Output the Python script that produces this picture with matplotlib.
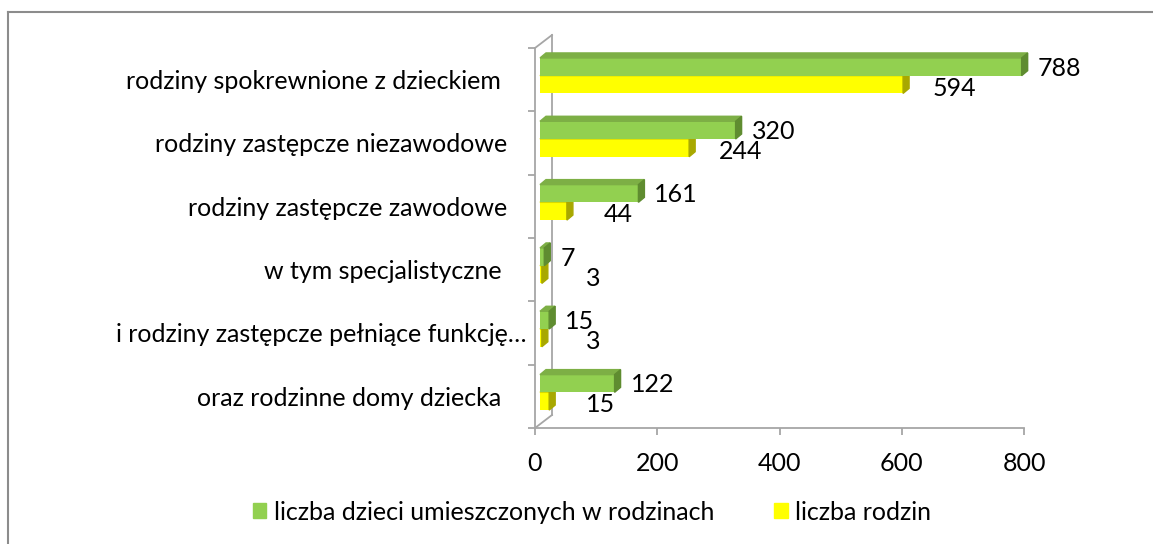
import matplotlib.pyplot as plt
from matplotlib.patches import Polygon, Patch
from matplotlib.lines import Line2D
from matplotlib.transforms import ScaledTranslation

# dane
kategorie = ["rodziny spokrewnione z dzieckiem    ",
             "rodziny zastępcze niezawodowe   ",
             "rodziny zastępcze zawodowe   ",
             "w tym specjalistyczne    ",
             "i rodziny zastępcze pełniące funkcję…",
             "oraz rodzinne domy dziecka    "]
dzieci = [788, 320, 161, 7, 15, 122]
rodziny = [594, 244, 44, 3, 3, 15]
serie = ["liczba dzieci umieszczonych w rodzinach", "liczba rodzin"]
xticks = [0, 200, 400, 600, 800]

ZIELONY, ZIELONY_GORA, ZIELONY_BOK = '#92D050', '#7DAF45', '#5F8C30'
ZOLTY, ZOLTY_GORA, ZOLTY_BOK = '#FFFF00', '#D8D800', '#A8A800'
SZARY = '#A6A6A6'

plt.rcParams['font.family'] = ['Lato', 'DejaVu Sans']
FS = 18

W, H = 1153, 544
fig = plt.figure(figsize=(W / 100, H / 100), dpi=100)
ax = fig.add_axes([535 / W, 1 - 428 / H, 489 / W, 380 / H])
ax.set_xlim(0, 800)
ax.set_ylim(6, 0)

ux = 800 / 489   # jednostki danych na piksel (x)
uy = 6 / 380     # jednostki danych na piksel (y)


def przes(dx, dy):
    # przesuniecie w pikselach (dy > 0 = w dol)
    return ax.transData + ScaledTranslation(dx / 100, -dy / 100, fig.dpi_scale_trans)


# sciana 3D (tylna krawedz)
DXw, DYw = 17 * ux, -13 * uy
for xs, ys in [([DXw, DXw], [DYw, 6 + DYw]),
               ([0, DXw], [0, DYw]),
               ([0, DXw], [6, 6 + DYw])]:
    ax.plot(xs, ys, color=SZARY, lw=1.3, clip_on=False, zorder=1)

# slupki 3D
h = 0.28
DX, DY = 6 * ux, -5 * uy
tr = przes(5, 0)


def slupek(v, yc, front, gora, bok, z):
    top, bot = yc - h / 2, yc + h / 2
    ax.barh(yc, v, height=h, left=0, color=front, transform=tr, zorder=z)
    ax.add_patch(Polygon([(0, top), (v, top), (v + DX, top + DY), (DX, top + DY)],
                         closed=True, color=gora, transform=tr, zorder=z, clip_on=False))
    ax.add_patch(Polygon([(v, top), (v, bot), (v + DX, bot + DY), (v + DX, top + DY)],
                         closed=True, color=bok, transform=tr, zorder=z, clip_on=False))


for i in range(len(kategorie)):
    slupek(rodziny[i], i + 0.577, ZOLTY, ZOLTY_GORA, ZOLTY_BOK, 2)
    slupek(dzieci[i], i + 0.297, ZIELONY, ZIELONY_GORA, ZIELONY_BOK, 3)
    ax.text(dzieci[i], i + 20 * uy, str(dzieci[i]), transform=przes(21, 0),
            ha='left', va='center', fontsize=FS, zorder=5)
    ax.text(rodziny[i], i + 40 * uy, str(rodziny[i]), transform=przes(56, 0),
            ha='center', va='center', fontsize=FS, zorder=5)

# osie
for s in ['top', 'right']:
    ax.spines[s].set_visible(False)
for s in ['left', 'bottom']:
    ax.spines[s].set_color(SZARY)
    ax.spines[s].set_linewidth(1.3)
ax.set_xticks(xticks)
ax.set_xticklabels([str(t) for t in xticks], fontsize=FS)
ax.tick_params(axis='x', length=5, width=1.3, color=SZARY, pad=12)
ax.set_yticks(range(7))
ax.set_yticklabels([])
ax.tick_params(axis='y', which='major', length=5, width=1.3, color=SZARY)
ax.set_yticks([i + 0.5 for i in range(6)], minor=True)
ax.set_yticklabels(kategorie, minor=True, fontsize=FS)
ax.tick_params(axis='y', which='minor', length=0, pad=6)

# legenda
uchwyty = [Patch(color=ZIELONY), Patch(color=ZOLTY)]
fig.legend(uchwyty, serie, loc='center', bbox_to_anchor=(592 / W, 1 - 512 / H),
           ncol=2, frameon=False, fontsize=FS, handlelength=0.55, handleheight=0.55,
           handletextpad=0.3, columnspacing=2.4)

# ramka
fig.add_artist(Line2D([7.5 / W, 7.5 / W], [0, 1 - 11.5 / H], color='#8C8C8C', lw=1.5))
fig.add_artist(Line2D([7.5 / W, 1], [1 - 11.5 / H, 1 - 11.5 / H], color='#8C8C8C', lw=1.5))

fig.savefig('out.png', dpi=100)
